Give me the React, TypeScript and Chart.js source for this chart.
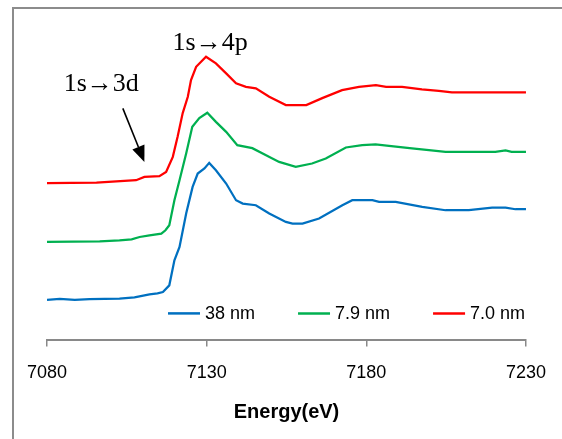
import React, { useEffect, useRef } from "react";
import { Chart, registerables } from "chart.js";

Chart.register(...registerables);

// ---- data (energy in eV, offset normalized absorbance) ----
const blueEnergy = [7080, 7084, 7088.7, 7093.3, 7102.7, 7107.4, 7112.1, 7114.6, 7116.3, 7118.3, 7119.9, 7121.5, 7123.6, 7125.6, 7127.2, 7129.3, 7130.8, 7132.9, 7136.1, 7139.2, 7141.3, 7145.4, 7149.6, 7154.8, 7156.9, 7160, 7165.2, 7172.5, 7175.6, 7181.9, 7184, 7189.2, 7197.5, 7204.8, 7212.1, 7219.4, 7223.6, 7226.7, 7230];
const blueValues = [0.405, 0.415, 0.405, 0.412, 0.417, 0.43, 0.46, 0.47, 0.483, 0.55, 0.8, 0.933, 1.27, 1.533, 1.667, 1.717, 1.773, 1.7, 1.567, 1.4, 1.367, 1.35, 1.267, 1.183, 1.167, 1.167, 1.217, 1.35, 1.4, 1.4, 1.383, 1.383, 1.333, 1.3, 1.3, 1.327, 1.327, 1.31, 1.31];

const greenEnergy = [7080, 7096.5, 7102.7, 7106.5, 7109, 7112.1, 7115.8, 7117.1, 7118.3, 7119.9, 7121.5, 7123.6, 7125.5, 7127.7, 7130.2, 7132.9, 7136.1, 7139.6, 7144.3, 7148.6, 7152.7, 7157.9, 7163, 7167.3, 7173.6, 7178.7, 7182.9, 7187.1, 7194.3, 7199.6, 7204.8, 7220.4, 7223.6, 7225.5, 7230];
const greenValues = [0.985, 0.99, 1.0, 1.01, 1.033, 1.05, 1.067, 1.1, 1.15, 1.4, 1.6, 1.87, 2.133, 2.22, 2.273, 2.183, 2.083, 1.95, 1.92, 1.85, 1.783, 1.733, 1.767, 1.817, 1.927, 1.95, 1.957, 1.943, 1.917, 1.9, 1.883, 1.883, 1.897, 1.883, 1.883];

const redEnergy = [7080, 7095.5, 7107.9, 7110.5, 7115.2, 7117.3, 7119.4, 7120.9, 7122.5, 7124.1, 7125.1, 7126.7, 7129.8, 7132.9, 7136.1, 7139.2, 7142.3, 7145.4, 7149.6, 7154.8, 7161.2, 7166.2, 7172.4, 7177.7, 7183, 7186.2, 7191.2, 7197.4, 7202.7, 7206.8, 7230];
const redValues = [1.57, 1.577, 1.6, 1.633, 1.64, 1.683, 1.833, 2.033, 2.27, 2.433, 2.6, 2.733, 2.833, 2.767, 2.667, 2.567, 2.533, 2.517, 2.433, 2.35, 2.35, 2.42, 2.5, 2.533, 2.55, 2.533, 2.533, 2.507, 2.493, 2.477, 2.477];

const seriesLabels = ["38 nm", "7.9 nm", "7.0 nm"];
const seriesColors = ["#0070C0", "#00B050", "#FF0000"];
const xTickValues = [7080, 7130, 7180, 7230];
const xTitle = "Energy(eV)";

// annotation anchors in data space
const annotationLabels = [
  { text: "1s\u21923d", x: 7097, y: 2.493 },
  { text: "1s\u21924p", x: 7131.1, y: 2.9 },
];
const arrowStart = { x: 7103.75, y: 2.317 };
const arrowEnd = { x: 7110.5, y: 1.783 };

const SANS = "'Liberation Sans', Arial, sans-serif";

const decorPlugin = {
  id: "decor",
  beforeDraw(chart: any) {
    const ctx = chart.ctx;
    ctx.save();
    ctx.fillStyle = "#ffffff";
    ctx.fillRect(0, 0, chart.width, chart.height);
    ctx.strokeStyle = "#8c8c8c";
    ctx.lineWidth = 2;
    ctx.beginPath();
    ctx.moveTo(13, chart.height);
    ctx.lineTo(13, 8);
    ctx.lineTo(chart.width, 8);
    ctx.stroke();
    ctx.restore();
  },
  afterDraw(chart: any) {
    const ctx = chart.ctx;
    const xs = chart.scales.x;
    const ys = chart.scales.y;
    ctx.save();
    // annotations
    ctx.fillStyle = "#000";
    ctx.font = "26px 'Liberation Serif', 'Times New Roman', serif";
    ctx.textAlign = "center";
    ctx.textBaseline = "alphabetic";
    for (const a of annotationLabels) {
      ctx.fillText(a.text, xs.getPixelForValue(a.x), ys.getPixelForValue(a.y));
    }
    // arrow
    const x1 = xs.getPixelForValue(arrowStart.x);
    const y1 = ys.getPixelForValue(arrowStart.y);
    const x2 = xs.getPixelForValue(arrowEnd.x);
    const y2 = ys.getPixelForValue(arrowEnd.y);
    const ang = Math.atan2(y2 - y1, x2 - x1);
    const headLen = 16;
    const headHalf = 6.5;
    const bx = x2 - headLen * Math.cos(ang);
    const by = y2 - headLen * Math.sin(ang);
    ctx.strokeStyle = "#000";
    ctx.lineWidth = 1.6;
    ctx.beginPath();
    ctx.moveTo(x1, y1);
    ctx.lineTo(bx, by);
    ctx.stroke();
    ctx.beginPath();
    ctx.moveTo(x2, y2);
    ctx.lineTo(bx + headHalf * Math.sin(ang), by - headHalf * Math.cos(ang));
    ctx.lineTo(bx - headHalf * Math.sin(ang), by + headHalf * Math.cos(ang));
    ctx.closePath();
    ctx.fill();
    // legend
    ctx.font = "18px " + SANS;
    ctx.textAlign = "left";
    ctx.textBaseline = "middle";
    let lx = 168;
    const ly = chart.chartArea.bottom - 27;
    chart.data.datasets.forEach((ds: any) => {
      ctx.strokeStyle = ds.borderColor;
      ctx.lineWidth = 2.5;
      ctx.beginPath();
      ctx.moveTo(lx, ly);
      ctx.lineTo(lx + 32, ly);
      ctx.stroke();
      ctx.fillStyle = "#000";
      ctx.fillText(ds.label, lx + 37, ly + 1);
      lx += 37 + ctx.measureText(ds.label).width + 43;
    });
    ctx.restore();
  },
};

function toPoints(xsArr: number[], ysArr: number[]) {
  return xsArr.map((e, i) => ({ x: e, y: ysArr[i] }));
}

export default function App() {
  const ref = useRef<HTMLCanvasElement | null>(null);
  useEffect(() => {
    if (!ref.current) return;
    const series = [
      toPoints(blueEnergy, blueValues),
      toPoints(greenEnergy, greenValues),
      toPoints(redEnergy, redValues),
    ];
    const chart = new Chart(ref.current, {
      type: "line",
      data: {
        datasets: series.map((pts, i) => ({
          label: seriesLabels[i],
          data: pts,
          borderColor: seriesColors[i],
          backgroundColor: seriesColors[i],
          borderWidth: 2.25,
          pointRadius: 0,
          tension: 0,
          fill: false,
        })),
      },
      options: {
        animation: false,
        responsive: false,
        devicePixelRatio: 1,
        layout: { padding: { left: 47, right: 34, top: 10, bottom: 11 } },
        plugins: {
          legend: { display: false },
          tooltip: { enabled: false },
        },
        scales: {
          x: {
            type: "linear",
            min: 7080,
            max: 7230,
            afterBuildTicks: (axis: any) => {
              axis.ticks = xTickValues.map((v) => ({ value: v }));
            },
            grid: {
              display: true,
              drawOnChartArea: false,
              drawTicks: true,
              tickLength: 6,
              color: "#898989",
              lineWidth: 1.5,
            },
            border: { display: true, color: "#898989", width: 2 },
            ticks: {
              font: { family: SANS, size: 18 },
              color: "#000",
              padding: 16,
              maxRotation: 0,
              autoSkip: false,
              callback: (v: any) => String(v),
            },
            title: {
              display: true,
              text: xTitle,
              font: { family: SANS, size: 20, weight: "bold" },
              color: "#000",
              padding: { top: 0, bottom: 4 },
            },
          },
          y: { display: false, min: 0, max: 3.3 },
        },
      },
      plugins: [decorPlugin],
    });
    return () => chart.destroy();
  }, []);
  return (
    <div style={{ position: "absolute", left: 0, top: 0, width: 562, height: 439 }}>
      <canvas ref={ref} width={562} height={439} />
    </div>
  );
}
